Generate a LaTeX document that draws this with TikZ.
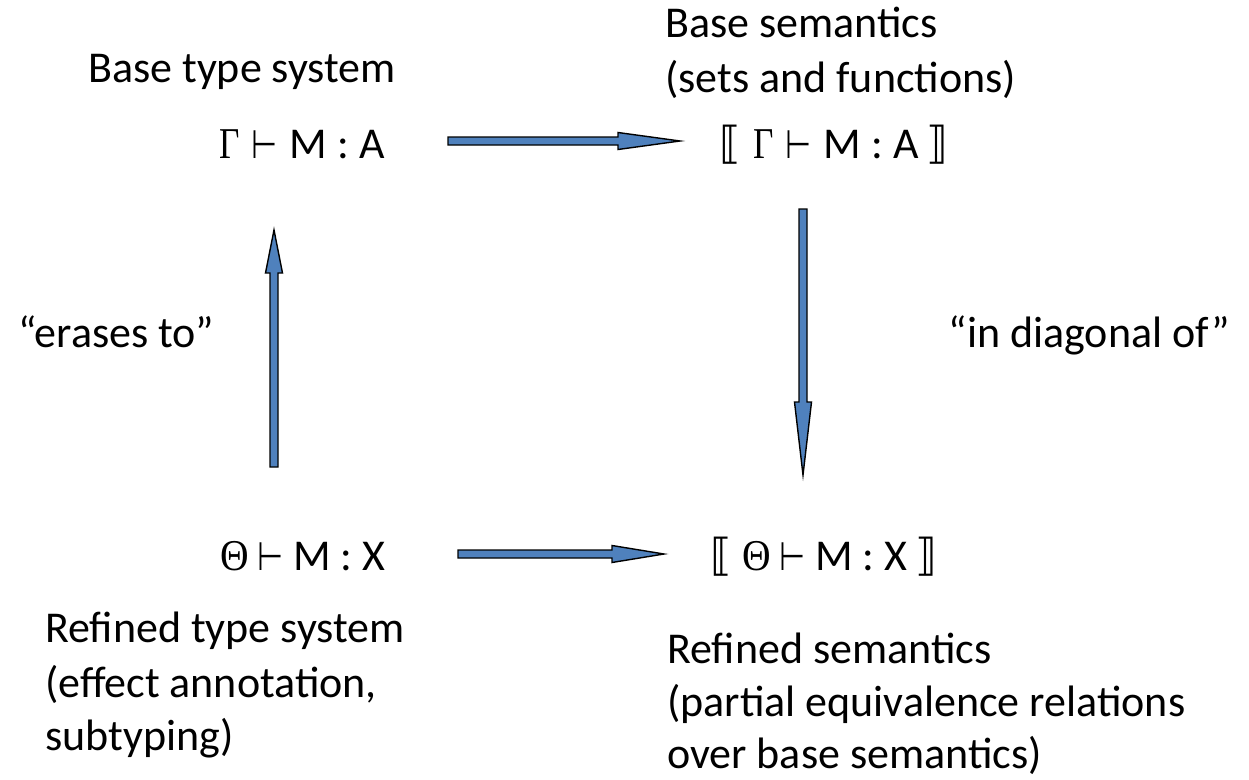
\documentclass[tikz,border=0pt]{standalone}
\usepackage{fontspec}
\usepackage{graphicx}
\setmainfont{Carlito}
\newfontfamily\grkfont{Liberation Serif}
\newfontfamily\symfont{DejaVu Sans}
\usetikzlibrary{calc}
\definecolor{arrowblue}{RGB}{79,129,189}
\tikzset{
  lbl/.style={inner sep=0pt, anchor=base west, font=\fontsize{44}{54}\selectfont},
  lblr/.style={lbl, anchor=base east},
  formula/.style={inner sep=0pt, anchor=base, font=\fontsize{44}{54}\selectfont},
  blockarrow/.style={draw=black, line width=1.4pt, fill=arrowblue, line join=miter},
}
\newcommand{\Gam}{{\grkfont\scalebox{0.8}[1]{Γ}}}
\newcommand{\The}{{\grkfont\scalebox{0.9}[1]{Θ}}}
\newcommand{\turn}{{\symfont\scalebox{0.68}[0.9]{⊢}}}
\newcommand{\lbr}{{\symfont ⟦}}
\newcommand{\rbr}{{\symfont ⟧}}
\newcommand{\shaftw}{4pt}
\newcommand{\headw}{8.5pt}
\newcommand{\blockarrowpath}[3]{%
  \coordinate (ba-h) at ($(#2)!#3!(#1)$);
  \draw[blockarrow] ($(#1)!\shaftw!90:(#2)$) -- ($(ba-h)!\shaftw!90:(#2)$)
    -- ($(ba-h)!\headw!90:(#2)$) -- (#2) -- ($(ba-h)!\headw!-90:(#2)$)
    -- ($(ba-h)!\shaftw!-90:(#2)$) -- ($(#1)!\shaftw!-90:(#2)$) -- cycle;}
\begin{document}
\begin{tikzpicture}[x=1pt,y=-1pt]
\useasboundingbox (0,0) rectangle (1249,779);
% labels
\node[lbl] (bts) at (88,82) {Base type system};
\node[lbl] (bs1) at (665,37) {Base semantics};
\node[lbl] (bs2) at (665,92) {(sets and functions)};
\node[lbl] (er) at (18,347) {“erases to”};
\node[lblr] (dg) at (1230,347) {“in diagonal of”};
\node[lbl] (rts1) at (45,642) {Refined type system};
\node[lbl] (rts2) at (45,697) {(effect annotation,};
\node[lbl] (rts3) at (45,750) {subtyping)};
\node[lbl] (rs1) at (667,663) {Refined semantics};
\node[lbl] (rs2) at (667,716) {(partial equivalence relations};
\node[lbl] (rs3) at (667,768) {over base semantics)};
% formulas
\node[formula] (tl) at (302,158) {\Gam\hspace{12pt}\turn\hspace{12pt}M : A};
\node[formula] (tr) at (834,158) {\lbr\hspace{12pt}\Gam\hspace{12pt}\turn\hspace{12pt}M : A\hspace{8pt}\rbr};
\node[formula] (bl) at (303,570) {\The\hspace{8pt}\turn\hspace{10pt}M : X};
\node[formula] (br) at (824,570) {\lbr\hspace{10pt}\The\hspace{8pt}\turn\hspace{10pt}M : X\hspace{8pt}\rbr};
% arrow end points
\coordinate (a1s) at (448,141); \coordinate (a1e) at (680,141);
\coordinate (a2s) at (458,554); \coordinate (a2e) at (664,554);
\coordinate (a3s) at (274,467); \coordinate (a3e) at (274,230);
\coordinate (a4s) at (803,209); \coordinate (a4e) at (803,475);
\blockarrowpath{a1s}{a1e}{62pt}
\blockarrowpath{a2s}{a2e}{52pt}
\blockarrowpath{a3s}{a3e}{43pt}
\blockarrowpath{a4s}{a4e}{73pt}
\end{tikzpicture}
\end{document}
